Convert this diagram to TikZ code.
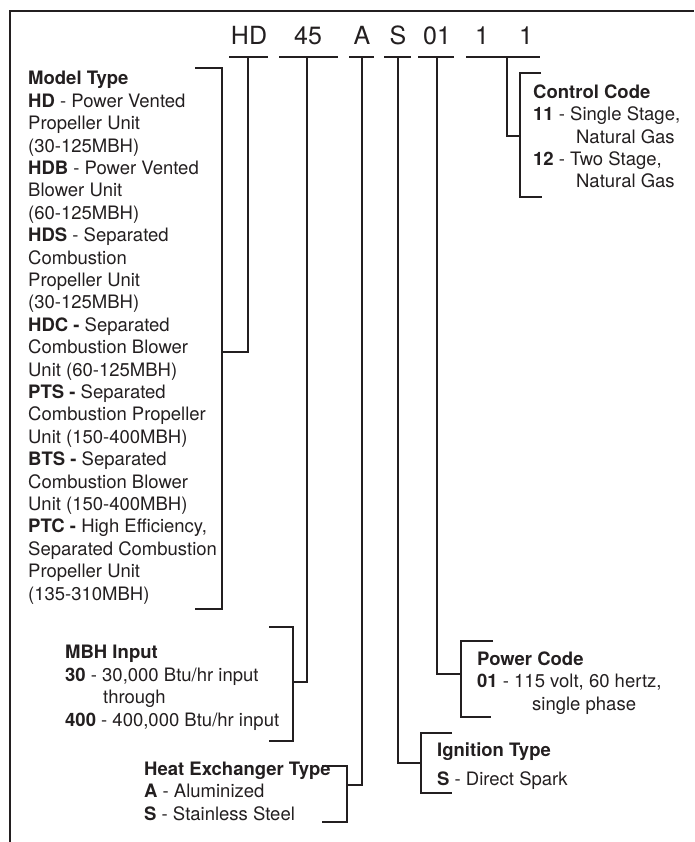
\documentclass[tikz,border=0pt]{standalone}
\usepackage{fontspec}
\setmainfont{TeX Gyre Heros}
\usepackage{xcolor}
\definecolor{ink}{HTML}{231F20}
\usetikzlibrary{positioning,calc}

\begin{document}
\begin{tikzpicture}[x=1pt, y=-1pt, line width=2.4pt, color=ink,
    code/.style={font=\fontsize{25}{30}\selectfont, anchor=base, inner sep=0pt},
    desc/.style={font=\fontsize{18.5}{22.4}\selectfont, align=left, anchor=base west, inner sep=0pt}]
    \useasboundingbox (0,0) rectangle (694,842);

    % frame
    \draw (10,842) -- (10,11) -- (694,11);

    % model number
    \node [code] (hd) at (249,45) {HD};
    \node [code] (btu) at (308,45) {45};
    \node [code] (hx) at (362,45) {A};
    \node [code] (ign) at (398,45) {S};
    \node [code] (pwr) at (437,45) {01};
    \node [code] (ctla) at (482,45) {1};
    \node [code] (ctlb) at (526,45) {1};
    \foreach \a/\b in {229/268, 279/338, 349/374, 384/411, 418/454, 466/540}
        \draw (\a,57) -- (\b,57);

    % descriptions (placed at the baseline of their last line)
    \node [desc] (model) at (27,600) {\textbf{Model Type}\\
        \textbf{HD} - Power Vented\\ Propeller Unit\\ (30-125MBH)\\
        \textbf{HDB} - Power Vented\\ Blower Unit\\ (60-125MBH)\\
        \textbf{HDS} - Separated\\ Combustion\\ Propeller Unit\\ (30-125MBH)\\
        \textbf{HDC -} Separated\\ Combustion Blower\\ Unit (60-125MBH)\\
        \textbf{PTS -} Separated\\ Combustion Propeller\\ Unit (150-400MBH)\\
        \textbf{BTS -} Separated\\ Combustion Blower\\ Unit (150-400MBH)\\
        \textbf{PTC -} High Efficiency,\\ Separated Combustion\\ Propeller Unit\\ (135-310MBH)};
    \node [desc] (mbh) at (64,726) {\textbf{MBH Input}\\
        \textbf{30} - 30,000 Btu/hr input\\
        \hspace*{38pt}through\\
        \textbf{400} - 400,000 Btu/hr input};
    \node [desc] (exch) at (143,820) {\textbf{Heat Exchanger Type}\\
        \textbf{A} - Aluminized\\
        \textbf{S} - Stainless Steel};
    \node [desc] (spark) at (436,785) {\textbf{Ignition Type}\\[6.6pt]
        \textbf{S} - Direct Spark};
    \node [desc] (power) at (476,710) {\textbf{Power Code}\\
        \textbf{01} - 115 volt, 60 hertz,\\
        \hspace*{55pt}single phase};
    \node [desc] (control) at (532,188) {\textbf{Control Code}\\
        \textbf{11} - Single Stage,\\
        \hspace*{43pt}Natural Gas\\
        \textbf{12} - Two Stage,\\
        \hspace*{43pt}Natural Gas};

    % stem tops and bracket joins
    \coordinate (hd-t) at (248,57);   \coordinate (model-j) at (222,352);
    \coordinate (btu-t) at (307,57);  \coordinate (mbh-j) at (293,682);
    \coordinate (hx-t) at (362,57);   \coordinate (exch-j) at (347,785);
    \coordinate (ign-t) at (398,57);  \coordinate (spark-j) at (421,763);
    \coordinate (pwr-t) at (437,57);  \coordinate (power-j) at (461,674);
    \coordinate (ctl-t) at (507,57);  \coordinate (control-j) at (520,136);

    \draw (hd-t) |- (model-j);
    \draw (btu-t) |- (mbh-j);
    \draw (hx-t) |- (exch-j);
    \draw (ign-t) |- (spark-j);
    \draw (pwr-t) |- (power-j);
    \draw (ctl-t) |- (control-j);

    % brackets
    \draw (195,68) -| (222,609) -- (195,609);
    \draw (269,627) -| (293,741) -- (269,741);
    \draw (322,766) -| (347,822) -- (322,822);
    \draw (452,733) -| (421,793) -- (452,793);
    \draw (493,641) -| (461,717) -- (491,717);
    \draw (541,73) -| (520,197) -- (542,197);
\end{tikzpicture}
\end{document}
